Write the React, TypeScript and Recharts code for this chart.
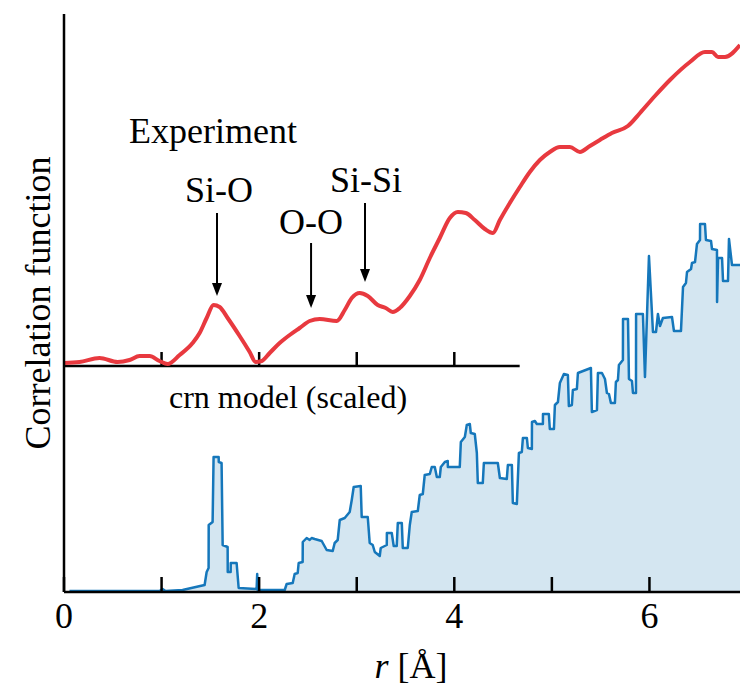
import React from 'react';
import { ComposedChart, Area, Line, XAxis, YAxis, ReferenceLine, ReferenceDot } from 'recharts';

// Experiment curve (relative to its own shifted baseline)
const EXP_R = [0, 0.159, 0.364, 0.549, 0.672, 0.774, 0.877, 0.979, 1.062, 1.185, 1.318, 1.39, 1.462, 1.533, 1.595, 1.677, 1.8, 1.903, 1.964, 2.026, 2.108, 2.21, 2.313, 2.415, 2.518, 2.621, 2.795, 2.877, 2.949, 3.031, 3.113, 3.215, 3.297, 3.369, 3.441, 3.544, 3.646, 3.749, 3.851, 3.954, 4.036, 4.118, 4.21, 4.313, 4.395, 4.467, 4.569, 4.672, 4.774, 4.877, 4.979, 5.082, 5.185, 5.287, 5.39, 5.492, 5.615, 5.779, 5.903, 6.056, 6.21, 6.415, 6.569, 6.641, 6.703, 6.774, 6.928];
const EXP_V = [0.03, 0.04, 0.08, 0.04, 0.06, 0.1, 0.1, 0.05, 0.02, 0.11, 0.23, 0.33, 0.48, 0.61, 0.59, 0.48, 0.3, 0.14, 0.04, 0.05, 0.13, 0.23, 0.31, 0.38, 0.45, 0.47, 0.45, 0.56, 0.68, 0.73, 0.7, 0.61, 0.58, 0.54, 0.58, 0.7, 0.86, 1.08, 1.28, 1.48, 1.54, 1.53, 1.46, 1.37, 1.33, 1.46, 1.63, 1.79, 1.94, 2.06, 2.14, 2.19, 2.19, 2.14, 2.2, 2.26, 2.33, 2.4, 2.53, 2.7, 2.86, 3.04, 3.14, 3.14, 3.09, 3.09, 3.21];
const EXP_OFFSET = 2.26;
const EXP_BASE_END = 4.67;

// crn model (scaled)
const CRN_R = [0.056, 0.979, 1.01, 1.041, 1.215, 1.441, 1.462, 1.482, 1.483, 1.523, 1.533, 1.585, 1.586, 1.615, 1.626, 1.677, 1.678, 1.708, 1.709, 1.769, 1.79, 1.974, 1.98, 1.985, 2.262, 2.282, 2.344, 2.364, 2.395, 2.405, 2.446, 2.447, 2.487, 2.518, 2.538, 2.569, 2.641, 2.692, 2.754, 2.774, 2.805, 2.826, 2.877, 2.928, 2.949, 2.969, 3.041, 3.051, 3.113, 3.133, 3.164, 3.185, 3.236, 3.246, 3.308, 3.309, 3.359, 3.379, 3.41, 3.421, 3.462, 3.472, 3.523, 3.544, 3.564, 3.626, 3.646, 3.677, 3.697, 3.749, 3.769, 3.8, 3.821, 3.851, 3.862, 3.903, 3.933, 3.934, 4.056, 4.067, 4.108, 4.128, 4.159, 4.169, 4.21, 4.231, 4.241, 4.292, 4.303, 4.446, 4.467, 4.538, 4.549, 4.59, 4.6, 4.641, 4.662, 4.692, 4.703, 4.744, 4.754, 4.795, 4.796, 4.826, 4.846, 4.908, 4.909, 4.969, 4.979, 5.021, 5.031, 5.062, 5.082, 5.123, 5.164, 5.174, 5.205, 5.215, 5.256, 5.267, 5.4, 5.41, 5.462, 5.472, 5.513, 5.544, 5.564, 5.585, 5.605, 5.646, 5.656, 5.677, 5.687, 5.728, 5.729, 5.78, 5.79, 5.821, 5.831, 5.862, 5.863, 5.933, 5.954, 5.995, 6.036, 6.067, 6.087, 6.108, 6.138, 6.231, 6.251, 6.323, 6.344, 6.374, 6.385, 6.426, 6.436, 6.467, 6.487, 6.518, 6.519, 6.569, 6.579, 6.631, 6.641, 6.692, 6.693, 6.703, 6.744, 6.754, 6.805, 6.815, 6.846, 6.928];
const CRN_V = [0.01, 0.01, 0.03, 0.01, 0.02, 0.07, 0.2, 0.24, 0.67, 0.7, 1.35, 1.35, 1.3, 1.29, 0.47, 0.45, 0.2, 0.2, 0.29, 0.29, 0.04, 0.03, 0.18, 0.02, 0.02, 0.08, 0.09, 0.18, 0.19, 0.29, 0.3, 0.5, 0.54, 0.52, 0.54, 0.53, 0.51, 0.42, 0.41, 0.49, 0.52, 0.72, 0.74, 0.8, 0.92, 1.05, 1.06, 0.75, 0.75, 0.49, 0.47, 0.4, 0.36, 0.44, 0.47, 0.59, 0.59, 0.46, 0.46, 0.69, 0.69, 0.44, 0.44, 0.67, 0.8, 0.81, 0.97, 0.98, 1.17, 1.18, 1.25, 1.25, 1.15, 1.15, 1.25, 1.3, 1.31, 1.25, 1.25, 1.5, 1.55, 1.67, 1.68, 1.59, 1.58, 1.39, 1.09, 1.09, 1.29, 1.29, 1.14, 1.13, 1.27, 1.27, 0.89, 0.88, 1.39, 1.4, 1.54, 1.54, 1.44, 1.43, 1.7, 1.71, 1.68, 1.68, 1.78, 1.78, 1.63, 1.63, 1.87, 1.9, 2.09, 2.18, 2.17, 1.86, 1.87, 2.02, 2.03, 2.19, 2.24, 1.8, 1.82, 2.19, 2.19, 2.13, 1.99, 1.98, 1.89, 1.89, 2.1, 2.12, 2.27, 2.32, 2.73, 2.73, 2.13, 2.11, 1.99, 1.99, 2.78, 2.78, 2.15, 3.36, 2.6, 2.6, 2.78, 2.66, 2.74, 2.75, 2.61, 2.61, 3.05, 3.09, 3.2, 3.23, 3.29, 3.3, 3.48, 3.52, 3.68, 3.68, 3.52, 3.51, 3.43, 3.42, 2.9, 3.34, 3.34, 3.11, 3.11, 3.53, 3.27, 3.27];

const X_DOMAIN: [number, number] = [0, 6.928];
const Y_DOMAIN: [number, number] = [0, 5.78];
const X_TICKS = [0, 1, 2, 3, 4, 5, 6];
const BASE_TICKS = [1, 2, 3, 4];

const LABELS = [
  { text: 'Experiment', r: 0.666, v: 4.49, anchor: 'start', size: 36 },
  { text: 'Si-O', r: 1.589, v: 3.9, anchor: 'middle', size: 36 },
  { text: 'O-O', r: 2.532, v: 3.58, anchor: 'middle', size: 36 },
  { text: 'Si-Si', r: 3.095, v: 4.0, anchor: 'middle', size: 36 },
  { text: 'crn model (scaled)', r: 1.076, v: 1.84, anchor: 'start', size: 32 },
];
const ARROWS = [
  { r: 1.568, from: 3.79, to: 2.96 },
  { r: 2.532, from: 3.49, to: 2.84 },
  { r: 3.085, from: 3.89, to: 3.1 },
];

const expRows = EXP_R.map((r, i) => ({ r, v: EXP_V[i] + EXP_OFFSET }));
const crnRows = CRN_R.map((r, i) => ({ r, v: CRN_V[i] }));

const FONT = '"Liberation Serif", "Times New Roman", "DejaVu Serif", serif';
const TXT: React.CSSProperties = { fontFamily: FONT };

const BottomTick = (props: any) => {
  const { x, y, payload } = props;
  const val = payload.value;
  return (
    <g>
      <line x1={x} y1={y} x2={x} y2={y - 15} stroke="#000" strokeWidth={2.5} />
      {val % 2 === 0 && (
        <text x={x} y={y + 36} textAnchor="middle" style={TXT} fontSize={36} fill="#000">
          {val}
        </text>
      )}
    </g>
  );
};

const TopTick = (props: any) => {
  const { x, y } = props;
  return <line x1={x} y1={y} x2={x} y2={y + 15} stroke="#000" strokeWidth={2.5} />;
};

const Arrow = (props: any) => {
  const { x1, y1, x2, y2 } = props;
  return (
    <g>
      <line x1={x1} y1={y1} x2={x2} y2={y2 - 10} stroke="#000" strokeWidth={2} />
      <polygon points={`${x2 - 5},${y2 - 13} ${x2 + 5},${y2 - 13} ${x2},${y2}`} fill="#000" />
    </g>
  );
};

export default function App() {
  return (
    <div style={{ position: 'absolute', left: 0, top: 0, width: 740, height: 686, background: '#fff', fontFamily: FONT }}>
      <ComposedChart width={740} height={686} margin={{ top: 14, right: 0, left: 0, bottom: 34 }}>
        <XAxis
          xAxisId="bottom"
          dataKey="r"
          type="number"
          domain={X_DOMAIN}
          ticks={X_TICKS}
          allowDataOverflow
          height={60}
          tickSize={0}
          tickMargin={0}
          tickLine={false}
          tick={<BottomTick />}
          axisLine={{ stroke: '#000', strokeWidth: 2.5 }}
          label={(p: any) => {
            const vb = p.viewBox;
            return (
              <text x={vb.x + vb.width / 2 + 9} y={vb.y + 86} textAnchor="middle" style={TXT} fontSize={36} fill="#000">
                <tspan fontStyle="italic">r</tspan>
                <tspan> [Å]</tspan>
              </text>
            );
          }}
        />
        <XAxis
          xAxisId="top"
          orientation="top"
          dataKey="r"
          type="number"
          domain={X_DOMAIN}
          ticks={X_TICKS}
          allowDataOverflow
          height={0}
          tickSize={0}
          tickMargin={0}
          tickLine={false}
          tick={<TopTick />}
          axisLine={{ stroke: '#000', strokeWidth: 2.5 }}
        />
        <YAxis
          type="number"
          domain={Y_DOMAIN}
          allowDataOverflow
          width={64}
          tick={false}
          tickLine={false}
          axisLine={{ stroke: '#000', strokeWidth: 2.5 }}
          label={(p: any) => {
            const vb = p.viewBox;
            const cx = vb.x + vb.width - 14;
            const cy = vb.y + vb.height / 2;
            return (
              <text x={cx} y={cy} transform={`rotate(-90, ${cx}, ${cy})`} textAnchor="middle" style={TXT} fontSize={36} fill="#000">
                Correlation function
              </text>
            );
          }}
        />
        <Area
          xAxisId="bottom"
          data={crnRows}
          dataKey="v"
          type="linear"
          stroke="#1577bb"
          strokeWidth={2.5}
          strokeLinejoin="round"
          fill="#d4e6f1"
          fillOpacity={1}
          dot={false}
          activeDot={false}
          isAnimationActive={false}
        />
        <ReferenceLine
          xAxisId="bottom"
          segment={[{ x: 0, y: EXP_OFFSET }, { x: EXP_BASE_END, y: EXP_OFFSET }]}
          stroke="#000"
          strokeWidth={2.5}
        />
        {BASE_TICKS.map((t) => (
          <ReferenceLine
            key={'bt' + t}
            xAxisId="bottom"
            segment={[{ x: t, y: EXP_OFFSET }, { x: t, y: EXP_OFFSET + 0.14 }]}
            stroke="#000"
            strokeWidth={2.5}
          />
        ))}
        <Line
          xAxisId="bottom"
          data={expRows}
          dataKey="v"
          type="monotone"
          stroke="#e8393f"
          strokeWidth={4}
          dot={false}
          activeDot={false}
          isAnimationActive={false}
        />
        {ARROWS.map((a, i) => (
          <ReferenceLine
            key={'ar' + i}
            xAxisId="bottom"
            segment={[{ x: a.r, y: a.from }, { x: a.r, y: a.to }]}
            stroke="#000"
            shape={<Arrow />}
          />
        ))}
        {LABELS.map((l, i) => (
          <ReferenceDot
            key={'lb' + i}
            xAxisId="bottom"
            x={l.r}
            y={l.v}
            r={0}
            shape={(p: any) => (
              <text x={p.cx} y={p.cy} textAnchor={l.anchor as any} style={TXT} fontSize={l.size} fill="#000">
                {l.text}
              </text>
            )}
          />
        ))}
      </ComposedChart>
    </div>
  );
}
